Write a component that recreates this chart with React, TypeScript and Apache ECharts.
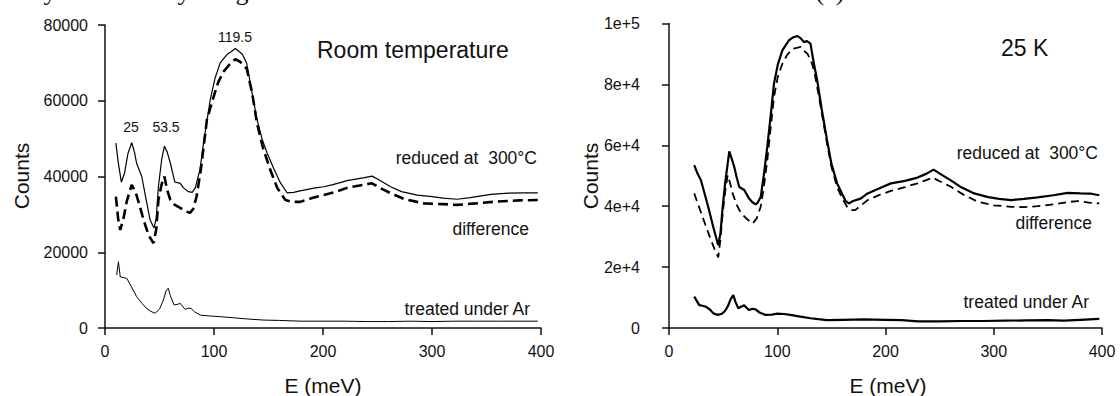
import React, { useEffect, useRef } from "react";
import * as echarts from "echarts";

// ---- Data (E in meV, counts) ----
const rtReduced: number[][] = [
  [10, 48800], [12, 44000], [15, 38500], [18, 41000], [21, 46000], [24.5, 48900], [27, 46500], [29, 43500],
  [33.7, 40000], [37, 35000], [41.4, 28500], [45, 26400], [47, 29000], [49, 37300], [52, 44500], [54.5, 48000],
  [57, 46500], [60, 43500], [64, 38600], [69, 38200], [72, 37000], [76.6, 36000], [80, 35800], [82.8, 37000],
  [87, 41700], [91, 50000], [96.5, 60200], [101, 66000], [105.7, 70000], [110, 71500], [113, 72500], [116, 73000],
  [119.5, 73800], [123, 73000], [126, 72300], [130, 69900], [135, 62000], [139.5, 55000], [144, 50000],
  [148.7, 46200], [155, 42000], [161, 38300], [167, 35700], [173, 35800], [179, 36200], [186, 36600], [193, 37000],
  [200.7, 37300], [208, 37800], [215, 38300], [222, 38900], [230, 39300], [238, 39700], [245, 40100], [252, 39000],
  [262, 37300], [272, 36000], [286.6, 35100], [300, 34700], [310, 34300], [323, 34000], [335, 34400], [354, 35300],
  [370, 35600], [385, 35700], [397, 35700],
];
const rtDifference: number[][] = [
  [10, 34700], [12, 29000], [14, 25900], [17, 29000], [20, 33500], [24.5, 37800], [28, 36000], [32, 32000],
  [36, 28000], [40, 24500], [44.4, 22400], [47, 26000], [49, 33800], [52, 38000], [54.5, 40000], [57, 36500],
  [60, 33800], [64, 32500], [69, 31700], [74, 30800], [78, 30400], [81, 31500], [84, 34700], [88, 42000],
  [93.5, 55000], [99.6, 61000], [104, 65000], [108.8, 67700], [114, 69500], [119.5, 71000], [124, 70300],
  [130, 68500], [135, 62000], [139.5, 54000], [145, 47500], [151.7, 41700], [158, 37000], [165.5, 33800],
  [172, 33300], [179, 33300], [190, 34300], [200.7, 35100], [212, 36000], [222, 37000], [235, 37700], [245, 38200],
  [252, 37000], [262, 35600], [275, 34000], [292.6, 32900], [310, 32700], [323, 32500], [340, 32900], [360, 33400],
  [380, 33700], [397, 33800],
];
const rtArgon: number[][] = [
  [10.7, 14000], [12.3, 17500], [14, 13500], [17, 13300], [20, 13100], [24, 11000], [29, 8300], [34, 6500],
  [38, 5200], [42, 4400], [46, 3900], [50, 5000], [53.6, 7400], [56, 9800], [58, 10500], [60, 8500], [63.4, 6100],
  [66, 6200], [69, 6500], [71, 5800], [73.6, 4900], [76, 5200], [78.8, 5200], [82, 4300], [87.4, 3400], [95, 3200],
  [105, 3000], [118, 2700], [130, 2400], [145, 2100], [160, 2000], [180, 1800], [200, 1800], [220, 1800],
  [240, 1700], [260, 1700], [280, 1800], [300, 1700], [320, 1800], [340, 1800], [360, 1800], [380, 1800], [397, 1800],
];

const k25Reduced: number[][] = [
  [23.3, 53500], [26, 51000], [29.5, 48500], [33, 44000], [37, 38700], [41, 33000], [45.5, 27200], [47.5, 31000],
  [49.6, 39800], [52, 48000], [55.7, 58000], [58, 55500], [60.3, 52900], [62.5, 49500], [64.9, 46300], [69.5, 45300],
  [74, 42500], [77, 41300], [80, 40600], [82, 41200], [84.7, 43000], [87.5, 50000], [90.8, 59500], [94, 70000],
  [97, 80300], [100.5, 86500], [104.7, 91200], [110.8, 94500], [115, 95500], [118.5, 95900], [121.5, 95200],
  [124.6, 93900], [127.5, 94200], [130.7, 93400], [133.5, 87500], [136.9, 81300], [141, 72000], [146, 61700],
  [150, 54000], [155.3, 47500], [160, 44000], [163, 41800], [166, 40900], [170, 41700], [177, 42500], [183.5, 44200],
  [195, 46000], [205, 47500], [218, 48300], [229.6, 49400], [238, 50700], [244.4, 52000], [252, 50300],
  [260.4, 48500], [270, 46200], [282, 44200], [295, 43000], [305, 42400], [316, 42000], [328, 42400], [340.6, 42900],
  [355, 43600], [368.3, 44400], [380, 44200], [390, 44100], [397.5, 43600],
];
const k25Difference: number[][] = [
  [23.3, 44200], [27, 40500], [31, 36500], [35, 32500], [38.8, 28900], [42, 26000], [45.5, 23200], [47.5, 29000],
  [49.6, 37700], [52, 45000], [54.2, 50200], [56.5, 47500], [58.8, 44200], [62.5, 40500], [66.5, 37700], [72, 35800],
  [77.3, 34300], [81, 36000], [84.7, 39800], [87.5, 46000], [90.8, 55100], [94, 66000], [97, 75900], [100.5, 82500],
  [104.7, 86800], [109, 89600], [114, 91700], [118, 92000], [121.7, 92300], [124, 91200], [127.8, 90100], [131, 88000],
  [134, 84600], [139, 75000], [146, 60600], [150, 53000], [155.3, 46300], [160, 42500], [164.5, 39800], [168, 38700],
  [172, 38700], [183.5, 42000], [195, 43800], [205, 45000], [218, 46300], [229.6, 47500], [237, 48500],
  [243.5, 49400], [250, 48200], [260.4, 46400], [272, 43800], [285, 41500], [300, 40300], [316, 39800], [328, 39700],
  [340.6, 40000], [355, 40600], [367, 41300], [377.5, 41700], [388, 41200], [397.5, 40900],
];
const k25Argon: number[][] = [
  [23.3, 10300], [25.5, 9000], [28, 7500], [31, 7300], [34, 7000], [38, 6000], [41, 4800], [45, 4300], [49, 4700],
  [51.5, 5500], [54.2, 7000], [57, 9500], [59.4, 10800], [61.5, 8500], [64, 6500], [66.5, 7000], [69.5, 7500],
  [72, 6500], [74, 5900], [77, 6300], [80, 6100], [84, 5000], [89.3, 4300], [95, 4400], [100, 4700], [106.2, 4600],
  [112, 4300], [120, 3800], [130.7, 3200], [138, 2900], [146, 2600], [160, 2700], [180, 2800], [200, 2700],
  [215, 2600], [230, 2200], [250, 2200], [270, 2300], [290, 2300], [310, 2400], [330, 2500], [350, 2600],
  [365, 2400], [380, 2700], [397.5, 3000],
];

const xTicks = [0, 100, 200, 300, 400];
const leftYTicks = ["0", "20000", "40000", "60000", "80000"];
const rightYTicks = ["0", "2e+4", "4e+4", "6e+4", "8e+4", "1e+5"];

const SANS = "'Liberation Sans', Arial, sans-serif";
const INK = "#111";

function axisPair(gridIndex: number, yMax: number, yLabels: string[], labelMargin: number) {
  const x = {
    type: "value",
    gridIndex,
    min: xTicks[0],
    max: xTicks[xTicks.length - 1],
    interval: 100,
    axisLine: { show: true, onZero: false, lineStyle: { color: INK, width: 1.5 } },
    axisTick: { show: true, inside: false, length: 7, lineStyle: { color: INK, width: 1.5 } },
    axisLabel: { show: true, margin: 15, fontSize: 16, fontFamily: SANS, color: INK },
    splitLine: { show: false },
  };
  const y = {
    type: "value",
    gridIndex,
    min: 0,
    max: yMax,
    interval: 20000,
    axisLine: { show: true, onZero: false, lineStyle: { color: INK, width: 1.5 } },
    axisTick: { show: true, inside: false, length: 7, lineStyle: { color: INK, width: 1.5 } },
    axisLabel: {
      show: true,
      margin: labelMargin,
      fontSize: 16,
      fontFamily: SANS,
      color: INK,
      formatter: (v: number) => yLabels[Math.round(v / 20000)] ?? String(v),
    },
    splitLine: { show: false },
  };
  return { x, y };
}

function line(name: string, data: number[][], idx: number, width: number, dash?: number[]) {
  return {
    name,
    type: "line",
    xAxisIndex: idx,
    yAxisIndex: idx,
    data,
    showSymbol: false,
    symbol: "none",
    smooth: false,
    lineStyle: { color: "#000", width, type: dash ? dash : "solid" },
    silent: true,
  };
}

function txt(text: string, x: number, y: number, size: number, align = "left", extra: any = {}) {
  return {
    type: "text",
    x,
    y,
    silent: true,
    ...extra,
    style: { text, fill: INK, font: `${size}px ${SANS}`, align, verticalAlign: "middle" },
  };
}

export default function App() {
  const ref = useRef<HTMLDivElement>(null);
  useEffect(() => {
    if (!ref.current) return;
    const chart = echarts.init(ref.current, null, { renderer: "svg" });
    const L = axisPair(0, 80000, leftYTicks, 17);
    const R = axisPair(1, 100000, rightYTicks, 29);
    const serif = "'Liberation Serif', 'Times New Roman', serif";
    chart.setOption({
      animation: false,
      backgroundColor: "#fff",
      grid: [
        { left: 105, top: 25, width: 436, height: 303 },
        { left: 669, top: 23.5, width: 433, height: 304.5 },
      ],
      xAxis: [L.x, R.x],
      yAxis: [L.y, R.y],
      series: [
        line("reduced at 300°C (RT)", rtReduced, 0, 1.2),
        line("difference (RT)", rtDifference, 0, 2.6, [10, 5]),
        line("treated under Ar (RT)", rtArgon, 0, 1),
        line("reduced at 300°C (25 K)", k25Reduced, 1, 2.2),
        line("difference (25 K)", k25Difference, 1, 1.8, [8, 5]),
        line("treated under Ar (25 K)", k25Argon, 1, 2.2),
      ],
      graphic: [
        // clipped descenders of the preceding document line
        { type: "text", x: 50, y: -9, silent: true, style: { text: "y", fill: INK, font: `26px ${serif}`, align: "center", verticalAlign: "middle" } },
        { type: "text", x: 184, y: -9, silent: true, style: { text: "y", fill: INK, font: `26px ${serif}`, align: "center", verticalAlign: "middle" } },
        { type: "text", x: 242, y: -9, silent: true, style: { text: "g", fill: INK, font: `26px ${serif}`, align: "center", verticalAlign: "middle" } },
        { type: "text", x: 830, y: -9, silent: true, style: { text: "(c)", fill: INK, font: `26px ${serif}`, align: "center", verticalAlign: "middle" } },
        // left panel
        txt("Counts", 21, 176, 21, "center", { rotation: Math.PI / 2 }),
        txt("E (meV)", 323, 385, 21, "center"),
        txt("Room temperature", 317, 50, 23, "left"),
        txt("119.5", 235, 37, 14, "center"),
        txt("25", 131, 127, 14, "center"),
        txt("53.5", 166, 127, 14, "center"),
        txt("reduced at  300°C", 537, 158, 17.5, "right"),
        txt("difference", 529, 229, 17.5, "right"),
        txt("treated under Ar", 530, 309, 17.5, "right"),
        // right panel
        txt("Counts", 590, 176, 21, "center", { rotation: Math.PI / 2 }),
        txt("E (meV)", 888, 385, 21, "center"),
        txt("25 K", 1001, 48, 23, "left"),
        txt("reduced at  300°C", 1098, 153, 17.5, "right"),
        txt("difference", 1092, 223, 17.5, "right"),
        txt("treated under Ar", 1089, 302, 17.5, "right"),
      ],
    });
    return () => chart.dispose();
  }, []);
  return (
    <div
      ref={ref}
      style={{ position: "absolute", left: 0, top: 0, width: 1120, height: 396, background: "#fff" }}
    />
  );
}
